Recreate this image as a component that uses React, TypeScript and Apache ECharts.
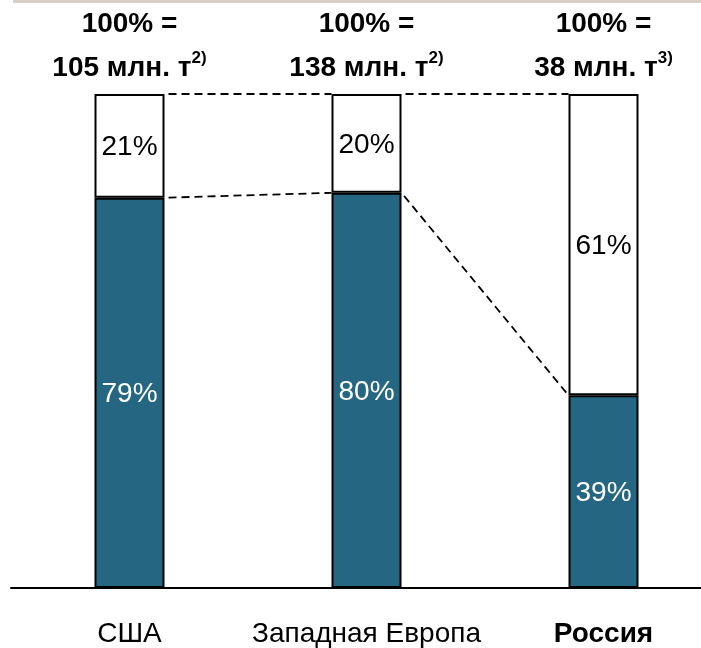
import React, { useEffect, useRef } from "react";
import * as echarts from "echarts";

const categories = ["США", "Западная Европа", "Россия"];
const lowerShare = [79, 80, 39];
const upperShare = [21, 20, 61];
const totals = ["105", "138", "38"];
const footnotes = ["2)", "2)", "3)"];

const FONT = '"Liberation Sans", Arial, sans-serif';
const BLUE = "#256782";
const BAR_W = 70;

export default function App() {
  const ref = useRef<HTMLDivElement>(null);
  useEffect(() => {
    if (!ref.current) return;
    const chart = echarts.init(ref.current, undefined, { renderer: "svg" });
    const connectorData = categories.slice(0, -1).map((_, i) => [i, lowerShare[i], lowerShare[i + 1]]);
    chart.setOption({
      animation: false,
      textStyle: { fontFamily: FONT },
      graphic: [
        { type: "rect", left: 13, top: 0, shape: { width: 688, height: 3 }, style: { fill: "#d8cfc7" }, silent: true },
      ],
      grid: { left: 11, right: -21, top: 94, bottom: 60, outerBoundsMode: "none", containLabel: false },
      xAxis: {
        type: "category",
        data: categories,
        axisLine: { lineStyle: { color: "#000", width: 2 } },
        axisTick: { show: false },
        axisLabel: {
          interval: 0,
          margin: 30,
          fontSize: 28,
          color: "#000",
          fontFamily: FONT,
          formatter: (v: string, i: number) => (i === categories.length - 1 ? `{b|${v}}` : `{n|${v}}`),
          rich: {
            n: { fontSize: 28, color: "#000", fontFamily: FONT },
            b: { fontSize: 28, color: "#000", fontFamily: FONT, fontWeight: "bold" },
          },
        },
      },
      yAxis: { type: "value", min: 0, max: 100, show: false, splitLine: { show: false } },
      series: [
        {
          type: "bar",
          stack: "s",
          barWidth: BAR_W,
          data: lowerShare,
          itemStyle: { color: BLUE, borderColor: "#000", borderWidth: 2 },
          label: { show: true, position: "inside", formatter: "{c}%", color: "#fff", fontSize: 28, fontFamily: FONT },
        },
        {
          type: "bar",
          stack: "s",
          barWidth: BAR_W,
          data: upperShare,
          itemStyle: { color: "#fff", borderColor: "#000", borderWidth: 2 },
          label: { show: true, position: "inside", formatter: "{c}%", color: "#000", fontSize: 28, fontFamily: FONT },
        },
        {
          type: "bar",
          stack: "s",
          barWidth: BAR_W,
          data: categories.map(() => 0),
          itemStyle: { color: "transparent", borderWidth: 0 },
          label: {
            show: true,
            position: "top",
            distance: 6,
            formatter: (p: any) => `{a|100% =}\n{b|${totals[p.dataIndex]} млн. т}{s|${footnotes[p.dataIndex]}}`,
            rich: {
              a: { fontSize: 28, fontWeight: "bold", color: "#000", lineHeight: 44, fontFamily: FONT },
              b: { fontSize: 28, fontWeight: "bold", color: "#000", lineHeight: 44, fontFamily: FONT },
              s: { fontSize: 17, fontWeight: "bold", color: "#000", padding: [0, 0, 17, 0], fontFamily: FONT },
            },
          },
        },
        {
          type: "custom",
          data: connectorData,
          silent: true,
          z: 5,
          renderItem: (params: any, api: any) => {
            const i = api.value(0);
            const a = api.value(1);
            const b = api.value(2);
            const half = BAR_W / 2;
            const t1 = api.coord([i, 100]);
            const t2 = api.coord([i + 1, 100]);
            const s1 = api.coord([i, a]);
            const s2 = api.coord([i + 1, b]);
            const style = { stroke: "#000", lineWidth: 1.8, lineDash: [8, 5], lineDashOffset: -4, fill: null };
            return {
              type: "group",
              children: [
                { type: "line", shape: { x1: t1[0] + half, y1: t1[1], x2: t2[0] - half, y2: t2[1] }, style },
                { type: "line", shape: { x1: s1[0] + half, y1: s1[1], x2: s2[0] - half, y2: s2[1] }, style },
              ],
            };
          },
        },
      ],
    });
    return () => chart.dispose();
  }, []);
  return <div ref={ref} style={{ position: "fixed", left: 0, top: 0, width: 701, height: 648 }} />;
}
